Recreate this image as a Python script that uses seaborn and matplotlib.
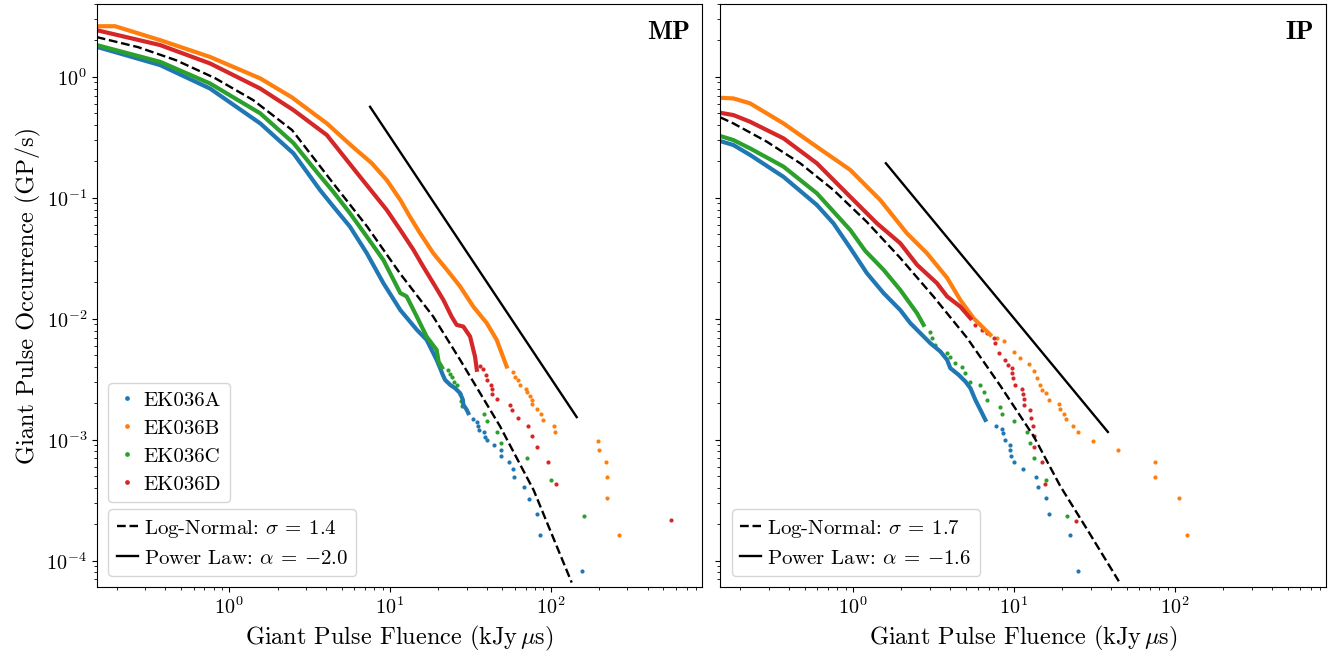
import matplotlib
matplotlib.use("Agg")
import matplotlib.pyplot as plt
from matplotlib.lines import Line2D
import seaborn as sns

# ---- MP panel (main pulse) ----
# dense part of each cumulative curve, then the sparse tail points
mp_a_x = [0.15, 0.372, 0.760, 1.56, 2.51, 3.67, 4.45, 5.64, 7.18, 9.10, 11.6, 14.7, 16.9,
          19.5, 20.5, 21.3, 22.0, 23.7, 25.4, 27.3, 28.4, 28.6, 30.0, 30.7]
mp_a_y = [1.77, 1.25, 0.80, 0.412, 0.233, 0.116, 0.0845, 0.0577, 0.0348, 0.0197, 0.0118, 0.0081,
          0.0067, 0.00458, 0.00391, 0.00344, 0.00313, 0.00284, 0.00267, 0.00243, 0.00214,
          0.00195, 0.00177, 0.00166]
mp_a_tx = [32.7, 34.7, 35.2, 35.8, 38.5, 39.0, 40.3, 44.4, 49.3, 49.3, 55.3, 58.5, 58.9, 68.2,
           73.0, 81.8, 86.2, 157]
mp_a_ty = [1.48e-3, 1.40e-3, 1.31e-3, 1.21e-3, 1.15e-3, 1.06e-3, 9.9e-4, 9.0e-4, 8.3e-4, 7.4e-4,
           6.5e-4, 5.7e-4, 4.9e-4, 4.1e-4, 3.26e-4, 2.45e-4, 1.63e-4, 8.2e-5]

mp_b_x = [0.15, 0.195, 0.372, 0.760, 1.56, 2.44, 4.05, 5.75, 7.71, 9.55, 11.6, 13.3, 15.4,
          18.6, 22.6, 27.3, 33.0, 40.0, 46.1, 53.2]
mp_b_y = [2.62, 2.62, 2.01, 1.46, 0.97, 0.68, 0.412, 0.27, 0.193, 0.140, 0.0959, 0.0698,
          0.0509, 0.0348, 0.0254, 0.0185, 0.0126, 0.0092, 0.0067, 0.00403]
mp_b_tx = [58.5, 60.0, 62.9, 64.4, 70.2, 70.9, 74.3, 76.2, 76.2, 82.6, 87.1, 90.0, 105, 107,
           196, 201, 221, 223, 224, 267]
mp_b_ty = [3.66e-3, 3.33e-3, 3.13e-3, 2.84e-3, 2.62e-3, 2.46e-3, 2.28e-3, 2.14e-3, 1.97e-3,
           1.79e-3, 1.64e-3, 1.46e-3, 1.31e-3, 1.15e-3, 9.8e-4, 8.2e-4, 6.5e-4, 4.9e-4,
           3.27e-4, 1.63e-4]

mp_c_x = [0.15, 0.372, 0.760, 1.56, 2.51, 3.51, 4.45, 5.64, 7.18, 9.10, 11.6, 12.7, 14.7, 16.9,
          19.5, 20.1, 21.1]
mp_c_y = [1.83, 1.33, 0.881, 0.499, 0.2835, 0.163, 0.1117, 0.0745, 0.0477, 0.0306, 0.0163,
          0.0153, 0.0104, 0.00713, 0.00553, 0.0044, 0.00395]
mp_c_tx = [23.1, 23.6, 24.4, 25.0, 26.3, 27.3, 27.7, 28.1, 38.5, 40.3, 46.6, 49.3, 71.2, 101, 162]
mp_c_ty = [3.79e-3, 3.51e-3, 3.29e-3, 3.03e-3, 2.81e-3, 2.38e-3, 2.11e-3, 1.91e-3, 1.64e-3,
           1.42e-3, 1.17e-3, 9.4e-4, 7.06e-4, 4.68e-4, 2.34e-4]

mp_d_x = [0.15, 0.372, 0.760, 1.56, 2.51, 4.05, 6.52, 7.88, 9.55, 11.6, 14.0, 16.1, 18.6, 21.5,
          24.2, 26.0, 28.6, 31.5, 33.8, 34.7]
mp_d_y = [2.43, 1.83, 1.29, 0.80, 0.531, 0.330, 0.149, 0.109, 0.0793, 0.0542, 0.0371, 0.0270,
          0.0197, 0.0143, 0.0104, 0.0089, 0.00862, 0.00713, 0.00487, 0.00379]
mp_d_tx = [36.3, 37.7, 39.6, 40.0, 42.4, 43.0, 43.2, 46.2, 55.8, 57.7, 62.3, 71.9, 76.9,
           82.6, 95.8, 108, 557]
mp_d_ty = [4.08e-3, 3.83e-3, 3.44e-3, 3.13e-3, 2.84e-3, 2.62e-3, 2.38e-3, 2.17e-3,
           1.95e-3, 1.75e-3, 1.51e-3, 1.31e-3, 1.08e-3, 8.7e-4, 6.5e-4, 4.31e-4, 2.16e-4]

mp_ln_x = [0.15, 0.271, 0.468, 0.817, 1.41, 2.46, 4.43, 7.20, 11.6, 18.6, 27.3, 48.4, 78.3, 135]
mp_ln_y = [2.13, 1.76, 1.37, 0.975, 0.642, 0.363, 0.132, 0.058, 0.0235, 0.0104, 0.00458,
           0.00129, 3.83e-4, 6.6e-5]
mp_pl_x = [7.52, 145]
mp_pl_y = [0.565, 1.54e-3]

# ---- IP panel (interpulse) ----
ip_a_x = [0.15, 0.1807, 0.2296, 0.370, 0.596, 0.756, 0.961, 1.220, 1.548, 1.966, 2.27, 2.62,
          3.02, 3.49, 3.84, 4.02, 4.53, 4.99, 5.36, 5.75, 6.18, 6.64]
ip_a_y = [0.294, 0.273, 0.226, 0.149, 0.0873, 0.0615, 0.0385, 0.0238, 0.0163, 0.0118, 0.0092,
          0.0076, 0.00629, 0.00536, 0.00458, 0.00391, 0.00344, 0.00303, 0.00267, 0.00214,
          0.00177, 0.00146]
ip_a_tx = [7.74, 8.43, 8.51, 8.84, 9.40, 9.50, 9.59, 9.96, 11.3, 13.7, 14.1, 15.7, 16.5, 22.4, 25.0]
ip_a_ty = [1.31e-3, 1.23e-3, 1.14e-3, 1.0e-3, 9.0e-4, 8.3e-4, 7.4e-4, 6.5e-4, 5.7e-4, 4.9e-4,
           4.1e-4, 3.27e-4, 2.45e-4, 1.63e-4, 8.2e-5]

ip_b_x = [0.15, 0.1807, 0.2296, 0.370, 0.596, 0.961, 1.476, 2.16, 2.88, 3.84, 4.64, 5.61, 7.13]
ip_b_y = [0.671, 0.663, 0.603, 0.412, 0.264, 0.170, 0.0959, 0.0509, 0.0348, 0.0218, 0.0143,
          0.0101, 0.00736]
ip_b_tx = [7.85, 8.63, 9.96, 10.96, 12.34, 13.26, 13.92, 14.45, 14.95, 15.91, 16.43, 18.97,
           19.44, 20.37, 21.17, 23.31, 24.90, 31.0, 44.0, 75.4, 75.4, 105.2, 118]
ip_b_ty = [6.92e-3, 6.49e-3, 5.36e-3, 4.73e-3, 4.24e-3, 3.71e-3, 3.23e-3, 2.85e-3, 2.59e-3,
           2.43e-3, 2.14e-3, 1.97e-3, 1.79e-3, 1.63e-3, 1.49e-3, 1.31e-3, 1.15e-3, 9.8e-4,
           8.2e-4, 6.5e-4, 4.9e-4, 3.27e-4, 1.63e-4]

ip_c_x = [0.15, 0.1807, 0.2296, 0.370, 0.596, 0.961, 1.191, 1.548, 1.966, 2.50, 2.744]
ip_c_y = [0.324, 0.300, 0.256, 0.181, 0.109, 0.0542, 0.0364, 0.0254, 0.0173, 0.0111, 0.0089]
ip_c_tx = [3.02, 3.10, 3.25, 3.84, 4.02, 4.32, 4.76, 4.99, 5.36, 6.18, 6.48, 6.80, 8.15, 8.43,
           9.96, 12.1, 12.5, 13.3, 15.8, 21.4]
ip_c_ty = [7.84e-3, 6.92e-3, 6.09e-3, 5.2e-3, 4.87e-3, 4.3e-3, 4.0e-3, 3.55e-3, 3.03e-3, 2.84e-3,
           2.5e-3, 2.14e-3, 1.88e-3, 1.64e-3, 1.42e-3, 1.17e-3, 9.4e-4, 7.06e-4, 4.68e-4, 2.34e-4]

ip_d_x = [0.15, 0.1807, 0.2296, 0.370, 0.596, 0.961, 1.408, 1.966, 2.50, 3.32, 3.84, 4.64, 5.36]
ip_d_y = [0.504, 0.483, 0.425, 0.310, 0.193, 0.102, 0.0615, 0.0421, 0.0279, 0.0197, 0.0153,
          0.0126, 0.0101]
ip_d_tx = [5.75, 6.33, 6.80, 7.48, 7.66, 8.03, 8.84, 9.14, 9.73, 9.73, 9.87, 10.2, 11.2, 11.4,
           11.5, 11.6, 12.6, 12.8, 13.1, 13.3, 13.4, 15.0, 15.5, 24.4]
ip_d_ty = [8.9e-3, 8.1e-3, 7.6e-3, 6.9e-3, 6.3e-3, 5.2e-3, 4.58e-3, 4.16e-3, 3.91e-3, 3.55e-3,
           3.23e-3, 2.84e-3, 2.62e-3, 2.38e-3, 2.17e-3, 1.95e-3, 1.75e-3, 1.51e-3, 1.31e-3,
           1.08e-3, 8.7e-4, 6.5e-4, 4.3e-4, 2.15e-4]

ip_ln_x = [0.15, 0.1807, 0.2914, 0.4696, 0.756, 1.220, 1.966, 3.17, 5.11, 8.23, 13.3, 19.44,
           28.5, 44.8]
ip_ln_y = [0.462, 0.412, 0.291, 0.193, 0.116, 0.0631, 0.0318, 0.0152, 0.00695, 0.00279,
           0.00106, 4.11e-4, 1.81e-4, 6.76e-5]
ip_pl_x = [1.60, 38.3]
ip_pl_y = [0.193, 1.16e-3]

names = ["EK036A", "EK036B", "EK036C", "EK036D"]
colors = ["#1f77b4", "#ff7f0e", "#2ca02c", "#d62728"]

plt.rcParams.update({
    "font.family": "serif",
    "font.serif": ["cmr10"],
    "mathtext.fontset": "cm",
    "axes.formatter.use_mathtext": True,
    "axes.unicode_minus": True,
})


def draw_panel(ax, curves, ln_x, ln_y, pl_x, pl_y):
    for (lx, ly, tx, ty), c in zip(curves, colors):
        sns.lineplot(x=lx, y=ly, ax=ax, color=c, lw=3.0, sort=False, estimator=None)
        sns.scatterplot(x=tx, y=ty, ax=ax, color=c, s=9, linewidth=0)
    sns.lineplot(x=ln_x, y=ln_y, ax=ax, color="k", lw=1.7, ls="--", sort=False, estimator=None)
    sns.lineplot(x=pl_x, y=pl_y, ax=ax, color="k", lw=1.7, sort=False, estimator=None)


fig = plt.figure(figsize=(13.4, 6.54), dpi=100)
ax1 = fig.add_axes([0.0722, 0.1029, 0.4517, 0.8910])
ax2 = fig.add_axes([0.5376, 0.1029, 0.4523, 0.8910], sharex=ax1, sharey=ax1)
for ax in (ax1, ax2):
    ax.set_xscale("log")
    ax.set_yscale("log")

draw_panel(ax1,
           [(mp_a_x, mp_a_y, mp_a_tx, mp_a_ty), (mp_b_x, mp_b_y, mp_b_tx, mp_b_ty),
            (mp_c_x, mp_c_y, mp_c_tx, mp_c_ty), (mp_d_x, mp_d_y, mp_d_tx, mp_d_ty)],
           mp_ln_x, mp_ln_y, mp_pl_x, mp_pl_y)
draw_panel(ax2,
           [(ip_a_x, ip_a_y, ip_a_tx, ip_a_ty), (ip_b_x, ip_b_y, ip_b_tx, ip_b_ty),
            (ip_c_x, ip_c_y, ip_c_tx, ip_c_ty), (ip_d_x, ip_d_y, ip_d_tx, ip_d_ty)],
           ip_ln_x, ip_ln_y, ip_pl_x, ip_pl_y)

ax1.set_xlim(0.15, 873)
ax1.set_ylim(6.1e-5, 4.0)

for ax, tag in ((ax1, "MP"), (ax2, "IP")):
    ax.set_xlabel(r"Giant Pulse Fluence (kJy$\,\mu$s)", fontsize=17.5)
    ax.tick_params(axis="both", which="major", labelsize=14.5)
    ax.text(0.98, 0.97, tag, transform=ax.transAxes, ha="right", va="top",
            fontsize=19, family="cmb10")
ax1.set_ylabel("Giant Pulse Occurrence (GP/s)", fontsize=17.5)
ax2.tick_params(axis="y", which="both", labelleft=False)

leg_kw = dict(loc="lower left", borderaxespad=0, fontsize=15, handlelength=1.0,
              handletextpad=0.3, labelspacing=0.45, borderpad=0.4)
dot_handles = [Line2D([], [], ls="none", marker="o", ms=2.4, color=c) for c in colors]
leg1 = ax1.legend(dot_handles, names, bbox_to_anchor=(0.0193, 0.1454), **leg_kw)
ax1.add_artist(leg1)

fit_handles = [Line2D([], [], color="k", lw=1.7, ls="--"), Line2D([], [], color="k", lw=1.7)]
ax1.legend(fit_handles,
           [r"Log-Normal: $\sigma\:=\:1.4$", r"Power Law: $\alpha\:=\:{-2.0}$"],
           bbox_to_anchor=(0.0193, 0.0184), **leg_kw)
ax2.legend(fit_handles,
           [r"Log-Normal: $\sigma\:=\:1.7$", r"Power Law: $\alpha\:=\:{-1.6}$"],
           bbox_to_anchor=(0.0193, 0.0184), **leg_kw)

fig.savefig("out.png", dpi=100)
